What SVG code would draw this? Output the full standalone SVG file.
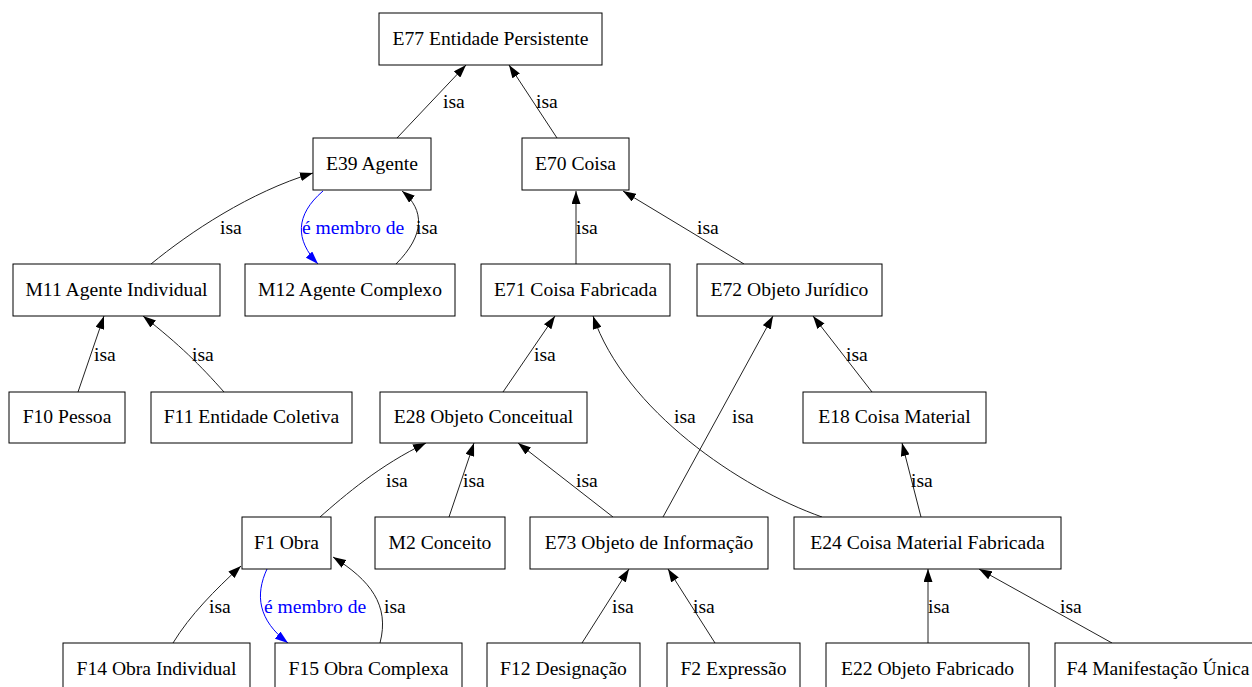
<svg xmlns="http://www.w3.org/2000/svg" width="1252" height="687" viewBox="0 0 1252 687">
<style>
.n rect{fill:#fff;stroke:#000;stroke-width:1}
.n text{font-family:'Liberation Serif','Tinos','DejaVu Serif',serif;font-size:19.6px;text-anchor:middle;fill:#000}
.e path{fill:none;stroke:#222;stroke-width:1}
.e path.b{stroke:#00f}
.l{font-family:'Liberation Serif','Tinos','DejaVu Serif',serif;font-size:19.6px;fill:#000}
.l.b{fill:#00f}
</style>
<defs>
<marker id="ah" viewBox="0 0 13 9" refX="13" refY="4.5" markerWidth="13" markerHeight="9" orient="auto" markerUnits="userSpaceOnUse"><path d="M0,0 L13,4.5 L0,9 z" fill="#000"/></marker>
<marker id="ahb" viewBox="0 0 13 9" refX="13" refY="4.5" markerWidth="13" markerHeight="9" orient="auto" markerUnits="userSpaceOnUse"><path d="M0,0 L13,4.5 L0,9 z" fill="#00f"/></marker>
</defs>
<rect width="1252" height="687" fill="#fff"/>
<g id="connectors" class="e">
<path d="M397,138 L466,65" marker-end="url(#ah)"/>
<path d="M557,138 L509,65" marker-end="url(#ah)"/>
<path d="M151,264 C190,232 250,192 313,173" marker-end="url(#ah)"/>
<path d="M396,264 C425,235 425,210 402,191" marker-end="url(#ah)"/>
<path class="b" d="M323,191 C295,215 295,240 318,264" marker-end="url(#ahb)"/>
<path d="M576,264 L576,191" marker-end="url(#ah)"/>
<path d="M744,264 L623,191" marker-end="url(#ah)"/>
<path d="M78,392 L104,316" marker-end="url(#ah)"/>
<path d="M224,392 C200,365 180,345 143,316" marker-end="url(#ah)"/>
<path d="M503,392 L555,316" marker-end="url(#ah)"/>
<path d="M822,517 C740,488 625,410 593,316" marker-end="url(#ah)"/>
<path d="M663,517 L773,316" marker-end="url(#ah)"/>
<path d="M872,392 L813,316" marker-end="url(#ah)"/>
<path d="M320,517 C345,495 380,465 426,443" marker-end="url(#ah)"/>
<path d="M449,517 L474,443" marker-end="url(#ah)"/>
<path d="M613,517 L518,443" marker-end="url(#ah)"/>
<path d="M921,517 L902,443" marker-end="url(#ah)"/>
<path d="M173,643 C190,615 215,590 241,566" marker-end="url(#ah)"/>
<path d="M380,643 C390,605 370,580 333,557" marker-end="url(#ah)"/>
<path class="b" d="M267,569 C255,595 258,620 288,643" marker-end="url(#ahb)"/>
<path d="M582,643 L629,569" marker-end="url(#ah)"/>
<path d="M715,643 L668,569" marker-end="url(#ah)"/>
<path d="M928,643 L928,569" marker-end="url(#ah)"/>
<path d="M1112,643 L979,569" marker-end="url(#ah)"/>
<text class="l" x="443" y="108">isa</text>
<text class="l" x="536" y="108">isa</text>
<text class="l" x="220" y="234">isa</text>
<text class="l" x="416" y="234">isa</text>
<text class="l b" x="302" y="234">é membro de</text>
<text class="l" x="576" y="234">isa</text>
<text class="l" x="697" y="234">isa</text>
<text class="l" x="94" y="361">isa</text>
<text class="l" x="192" y="361">isa</text>
<text class="l" x="534" y="361">isa</text>
<text class="l" x="674" y="423">isa</text>
<text class="l" x="732" y="423">isa</text>
<text class="l" x="846" y="361">isa</text>
<text class="l" x="386" y="487">isa</text>
<text class="l" x="463" y="487">isa</text>
<text class="l" x="576" y="487">isa</text>
<text class="l" x="911" y="487">isa</text>
<text class="l" x="209" y="613">isa</text>
<text class="l" x="384" y="613">isa</text>
<text class="l b" x="264" y="613">é membro de</text>
<text class="l" x="612" y="613">isa</text>
<text class="l" x="693" y="613">isa</text>
<text class="l" x="928" y="613">isa</text>
<text class="l" x="1060" y="613">isa</text>
</g>
<g id="E77" class="n"><rect x="379" y="13" width="223" height="52"/><text x="490.5" y="45">E77 Entidade Persistente</text></g>
<g id="E39" class="n"><rect x="313" y="138" width="118" height="52"/><text x="372" y="170">E39 Agente</text></g>
<g id="E70" class="n"><rect x="522" y="138" width="107" height="52"/><text x="575.5" y="170">E70 Coisa</text></g>
<g id="M11" class="n"><rect x="13" y="264" width="207" height="52"/><text x="116.5" y="296">M11 Agente Individual</text></g>
<g id="M12" class="n"><rect x="245" y="264" width="210" height="52"/><text x="350" y="296">M12 Agente Complexo</text></g>
<g id="E71" class="n"><rect x="481" y="264" width="189" height="52"/><text x="575.5" y="296">E71 Coisa Fabricada</text></g>
<g id="E72" class="n"><rect x="697" y="264" width="185" height="52"/><text x="789.5" y="296">E72 Objeto Jurídico</text></g>
<g id="F10" class="n"><rect x="9" y="392" width="116" height="51"/><text x="67" y="423">F10 Pessoa</text></g>
<g id="F11" class="n"><rect x="151" y="392" width="201" height="51"/><text x="251.5" y="423">F11 Entidade Coletiva</text></g>
<g id="E28" class="n"><rect x="380" y="392" width="207" height="51"/><text x="483.5" y="423">E28 Objeto Conceitual</text></g>
<g id="E18" class="n"><rect x="803" y="392" width="183" height="51"/><text x="894.5" y="423">E18 Coisa Material</text></g>
<g id="F1" class="n"><rect x="242" y="517" width="89" height="52"/><text x="286.5" y="549">F1 Obra</text></g>
<g id="M2" class="n"><rect x="375" y="517" width="130" height="52"/><text x="440" y="549">M2 Conceito</text></g>
<g id="E73" class="n"><rect x="530" y="517" width="238" height="52"/><text x="649" y="549">E73 Objeto de Informação</text></g>
<g id="E24" class="n"><rect x="794" y="517" width="267" height="52"/><text x="927.5" y="549">E24 Coisa Material Fabricada</text></g>
<g id="F14" class="n"><rect x="63" y="643" width="187" height="52"/><text x="156.5" y="675">F14 Obra Individual</text></g>
<g id="F15" class="n"><rect x="275" y="643" width="187" height="52"/><text x="368.5" y="675">F15 Obra Complexa</text></g>
<g id="F12" class="n"><rect x="487" y="643" width="153" height="52"/><text x="563.5" y="675">F12 Designação</text></g>
<g id="F2" class="n"><rect x="667" y="643" width="133" height="52"/><text x="733.5" y="675">F2 Expressão</text></g>
<g id="E22" class="n"><rect x="826" y="643" width="203" height="52"/><text x="927.5" y="675">E22 Objeto Fabricado</text></g>
<g id="F4" class="n"><rect x="1055" y="643" width="207" height="52"/><text x="1158" y="675">F4 Manifestação Única</text></g>
</svg>
